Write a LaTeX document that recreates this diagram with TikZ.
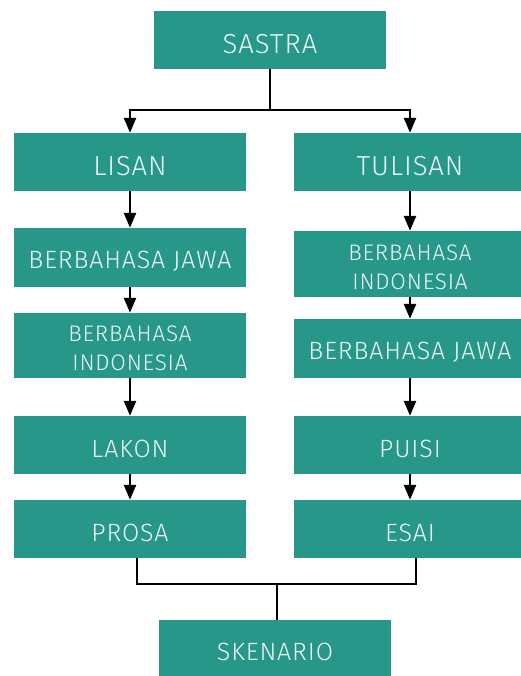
\documentclass[tikz,border=0pt]{standalone}
\usepackage{fontspec}
\setmainfont{Fira Sans}[UprightFont={* Light},LetterSpace=3.5]
\usetikzlibrary{arrows.meta,calc}
\definecolor{teal1}{RGB}{38,151,137}
\definecolor{txt}{RGB}{236,248,244}
\tikzset{
  box/.style={fill=teal1, inner sep=0pt, minimum width=232pt},
  lbl/.style={text=txt, inner sep=0pt, align=center, yshift=-4pt},
  big/.style={lbl, font=\fontsize{27.5}{31}\selectfont},
  mid/.style={lbl, font=\fontsize{25}{29}\selectfont},
  two/.style={lbl, yshift=1pt, font=\fontsize{22.5}{29}\selectfont},
  conn/.style={line width=2.5pt, draw=black},
  arr/.style={conn, -{Triangle[length=15pt,width=12pt]}}
}
\begin{document}
\begin{tikzpicture}[x=1pt,y=-1pt]
\useasboundingbox (0,0) rectangle (520,676);
\node[box,minimum height=58pt,label={[big]center:SASTRA}] (sastra) at (270,40) {};
\node[box,minimum height=58pt,label={[big]center:LISAN}] (lisan) at (130,162) {};
\node[box,minimum height=58pt,label={[big]center:TULISAN}] (tulisan) at (410,162) {};
\node[box,minimum height=59pt,label={[mid]center:BERBAHASA JAWA}] (lbj) at (130,257.5) {};
\node[box,minimum height=65pt,label={[two]center:BERBAHASA\\INDONESIA}] (lbi) at (130,345.5) {};
\node[box,minimum height=58pt,label={[mid]center:LAKON}] (lakon) at (130,445) {};
\node[box,minimum height=58pt,label={[mid]center:PROSA}] (prosa) at (130,529) {};
\node[box,minimum height=66pt,label={[two]center:BERBAHASA\\INDONESIA}] (rbi) at (410,264) {};
\node[box,minimum height=59pt,label={[mid]center:BERBAHASA JAWA}] (rbj) at (410,348.5) {};
\node[box,minimum height=58pt,label={[mid]center:PUISI}] (puisi) at (410,445) {};
\node[box,minimum height=58pt,label={[mid]center:ESAI}] (esai) at (410,529) {};
\node[box,minimum height=56pt,label={[mid]center:SKENARIO}] (sken) at (275,648) {};
% top split
\coordinate (tj) at (270,110);
\draw[conn] (sastra.south) -- (tj);
\draw[arr] (tj) -| (lisan.north);
\draw[arr] (tj) -| (tulisan.north);
% left column
\draw[arr] (lisan) -- (lbj);
\draw[arr] (lbj) -- (lbi);
\draw[arr] (lbi) -- (lakon);
\draw[arr] (lakon) -- (prosa);
% right column
\draw[arr] (tulisan) -- (rbi);
\draw[arr] (rbi) -- (rbj);
\draw[arr] (rbj) -- (puisi);
\draw[arr] (puisi) -- (esai);
% bottom merge
\coordinate (pb) at ($(prosa.south)+(7,0)$);
\coordinate (eb) at ($(esai.south)+(6,0)$);
\coordinate (bj) at (277,584);
\draw[conn] (pb) |- (bj) -| (eb);
\draw[conn] (bj) -- (bj |- sken.north);
\end{tikzpicture}
\end{document}
